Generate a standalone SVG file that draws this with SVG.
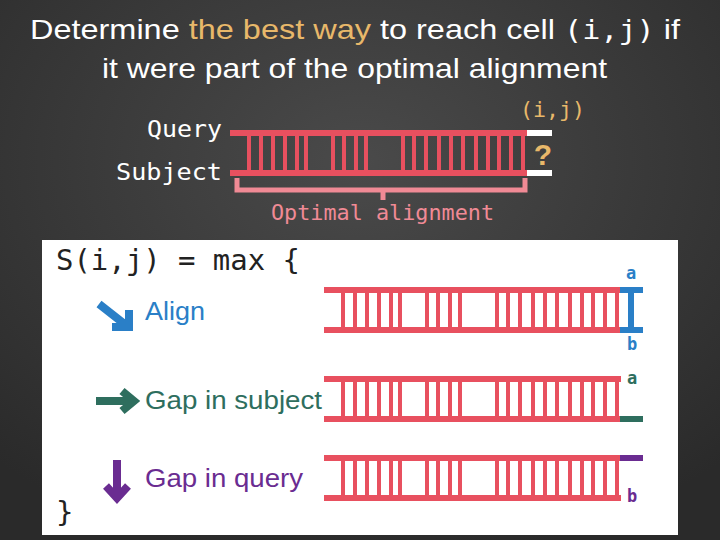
<svg xmlns="http://www.w3.org/2000/svg" width="720" height="540" viewBox="0 0 720 540">
<defs>
<radialGradient id="bg" cx="50%" cy="30%" r="75%"><stop offset="0" stop-color="#4a4a4a"/><stop offset="1" stop-color="#2a2a2a"/></radialGradient>
<g id="rungs" stroke="#e8505f" stroke-width="4">
<path d="M19 0v40M31 0v40M43 0v40M55 0v40M67 0v40M76 0v40M103 0v40M114 0v40M126 0v40M136 0v40M173 0v40M184 0v40M196 0v40M209 0v40M221 0v40M233 0v40M246 0v40M258 0v40M269 0v40M281 0v40M293 0v40"/>
<path d="M0 0h297M0 40h297" stroke-width="6"/>
</g>
</defs>
<style>
.w{font-family:"Liberation Sans",Arial,sans-serif;fill:#fff}
.m{font-family:"DejaVu Sans Mono","Liberation Mono",monospace}
.s{font-family:"Liberation Sans",Arial,sans-serif;font-size:25px}
.l{font-family:"DejaVu Sans Mono",monospace;font-size:17px;font-weight:bold}
</style>
<rect width="720" height="540" fill="url(#bg)"/>
<text class="w" x="30" y="39" font-size="28" textLength="650" lengthAdjust="spacingAndGlyphs">Determine <tspan fill="#e8b86a">the best way</tspan> to reach cell <tspan class="m" font-size="26">(i,j)</tspan> if</text>
<text class="w" x="102" y="78" font-size="28" textLength="505" lengthAdjust="spacingAndGlyphs">it were part of the optimal alignment</text>
<g id="top">
<text class="m" x="147" y="137" font-size="23" fill="#fff" textLength="75" lengthAdjust="spacingAndGlyphs">Query</text>
<text class="m" x="116" y="180" font-size="23" fill="#fff" textLength="106" lengthAdjust="spacingAndGlyphs">Subject</text>
<text class="m" x="520" y="117" font-size="21" fill="#e8b86a" textLength="65" lengthAdjust="spacingAndGlyphs">(i,j)</text>
<use href="#rungs" x="230" y="133"/>
<path d="M527 133h25M527 173h25" stroke="#fff" stroke-width="6"/>
<text x="543" y="165" font-family="Liberation Sans,Arial,sans-serif" font-weight="bold" font-size="30" fill="#e8b86a" text-anchor="middle">?</text>
<path d="M237 178v12h146v10M383 190h142v-12" fill="none" stroke="#f08a95" stroke-width="5"/>
<text class="m" x="271" y="220" font-size="21" fill="#f08a95" textLength="223" lengthAdjust="spacingAndGlyphs">Optimal alignment</text>
</g>
<rect x="42" y="240" width="636" height="295" fill="#fff"/>
<text class="m" x="56" y="270" font-size="29" fill="#222" textLength="244" lengthAdjust="spacingAndGlyphs">S(i,j) = max {</text>
<text class="m" x="56" y="522" font-size="29" fill="#222">}</text>
<g id="align">
<path d="M99 304l28 22M112 327h17v-17" fill="none" stroke="#2a7fc7" stroke-width="8"/>
<text class="s" x="145" y="320" fill="#2a7fc7" textLength="60" lengthAdjust="spacingAndGlyphs">Align</text>
<use href="#rungs" x="324" y="290"/>
<path d="M620 290h23M620 330h23M631 290v40" stroke="#2a7fc7" stroke-width="6"/>
<text x="631" y="279" class="l" fill="#2a7fc7" text-anchor="middle">a</text>
<text x="632" y="350" class="l" fill="#2a7fc7" text-anchor="middle">b</text>
</g>
<g id="gapsubj">
<path d="M96 401h38M122 391l12 10l-12 10" fill="none" stroke="#2e6e5e" stroke-width="8"/>
<text class="s" x="145" y="409" fill="#2e6e5e" textLength="177" lengthAdjust="spacingAndGlyphs">Gap in subject</text>
<use href="#rungs" x="324" y="379"/>
<path d="M620 419h23" stroke="#2e6e5e" stroke-width="6"/>
<text x="632" y="384" class="l" fill="#2e6e5e" text-anchor="middle">a</text>
</g>
<g id="gapquery">
<path d="M117 460v38M106 486l11 12l11-12" fill="none" stroke="#6a2c91" stroke-width="8"/>
<text class="s" x="145" y="487" fill="#6a2c91" textLength="158" lengthAdjust="spacingAndGlyphs">Gap in query</text>
<use href="#rungs" x="324" y="458"/>
<path d="M620 458h23" stroke="#6a2c91" stroke-width="6"/>
<text x="632" y="502" class="l" fill="#6a2c91" text-anchor="middle">b</text>
</g>
</svg>
